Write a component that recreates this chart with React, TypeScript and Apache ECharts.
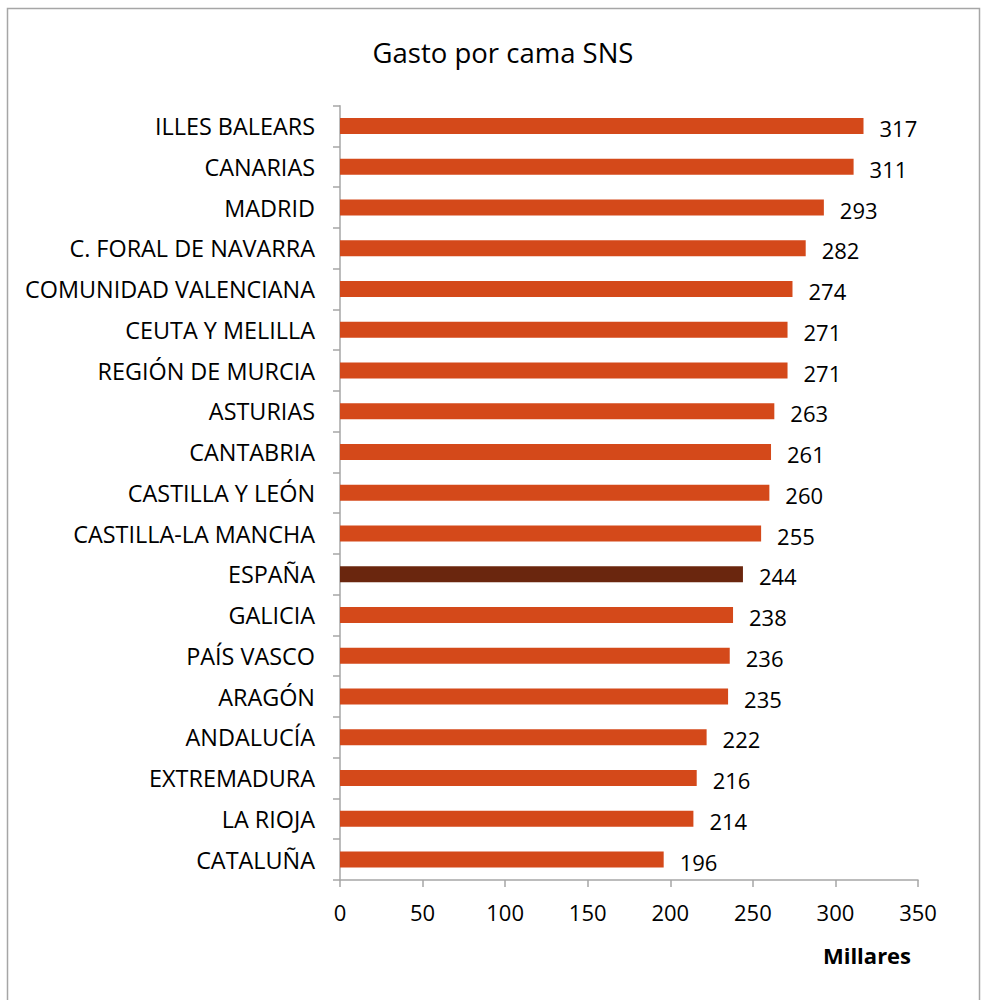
import React, { useEffect, useRef } from "react";
import * as echarts from "echarts";

const categories = [
  "ILLES BALEARS",
  "CANARIAS",
  "MADRID",
  "C. FORAL DE NAVARRA",
  "COMUNIDAD VALENCIANA",
  "CEUTA Y MELILLA",
  "REGIÓN DE MURCIA",
  "ASTURIAS",
  "CANTABRIA",
  "CASTILLA Y LEÓN",
  "CASTILLA-LA MANCHA",
  "ESPAÑA",
  "GALICIA",
  "PAÍS VASCO",
  "ARAGÓN",
  "ANDALUCÍA",
  "EXTREMADURA",
  "LA RIOJA",
  "CATALUÑA",
];
const values = [317, 311, 293, 282, 274, 271, 271, 263, 261, 260, 255, 244, 238, 236, 235, 222, 216, 214, 196];
const highlight = "ESPAÑA";
const xTicks = [0, 50, 100, 150, 200, 250, 300, 350];

const FONT = "'Open Sans', sans-serif";

export default function App() {
  const ref = useRef<HTMLDivElement>(null);
  useEffect(() => {
    const chart = echarts.init(ref.current!, null, { renderer: "svg" });
    chart.setOption({
      animation: false,
      backgroundColor: "#ffffff",
      title: {
        text: "Gasto por cama SNS",
        left: 498,
        textAlign: "center",
        top: 33,
        textStyle: { fontFamily: FONT, fontSize: 27.5, fontWeight: "normal", color: "#000" },
      },
      graphic: [
        {
          type: "rect",
          shape: { x: 7.5, y: 8.5, width: 972, height: 1000 },
          style: { fill: "none", stroke: "#a6a6a6", lineWidth: 1.5 },
          silent: true,
        },
        {
          type: "text",
          x: 867,
          y: 955,
          style: {
            text: "Millares",
            fontFamily: FONT,
            fontSize: 22,
            fontWeight: "bold",
            fill: "#000",
            align: "center",
            verticalAlign: "middle",
          },
        },
      ],
      grid: { left: 340, right: 64, top: 105.7, bottom: 120, containLabel: false },
      xAxis: {
        type: "value",
        min: xTicks[0],
        max: xTicks[xTicks.length - 1],
        interval: 50,
        splitLine: { show: false },
        axisLine: { show: true, lineStyle: { color: "#a6a6a6", width: 1.5 } },
        axisTick: { show: true, length: 7, lineStyle: { color: "#a6a6a6", width: 1.5 } },
        axisLabel: { fontFamily: FONT, fontSize: 22, color: "#000", margin: 21 },
      },
      yAxis: {
        type: "category",
        data: categories,
        inverse: true,
        axisLine: { show: true, lineStyle: { color: "#a6a6a6", width: 1.5 } },
        axisTick: { show: true, length: 7, lineStyle: { color: "#a6a6a6", width: 1.5 } },
        axisLabel: { fontFamily: FONT, fontSize: 23.4, color: "#000", margin: 25 },
      },
      series: [
        {
          type: "bar",
          barWidth: 16,
          data: values.map((v, i) => ({
            value: v,
            itemStyle: { color: categories[i] === highlight ? "#6A260E" : "#D4491A" },
          })),
          label: {
            show: true,
            position: "right",
            distance: 16,
            offset: [0, 2],
            fontFamily: FONT,
            fontSize: 22,
            color: "#000",
          },
        },
      ],
    });
    return () => chart.dispose();
  }, []);
  return <div ref={ref} style={{ width: 982, height: 1000, position: "absolute", left: 0, top: 0 }} />;
}
